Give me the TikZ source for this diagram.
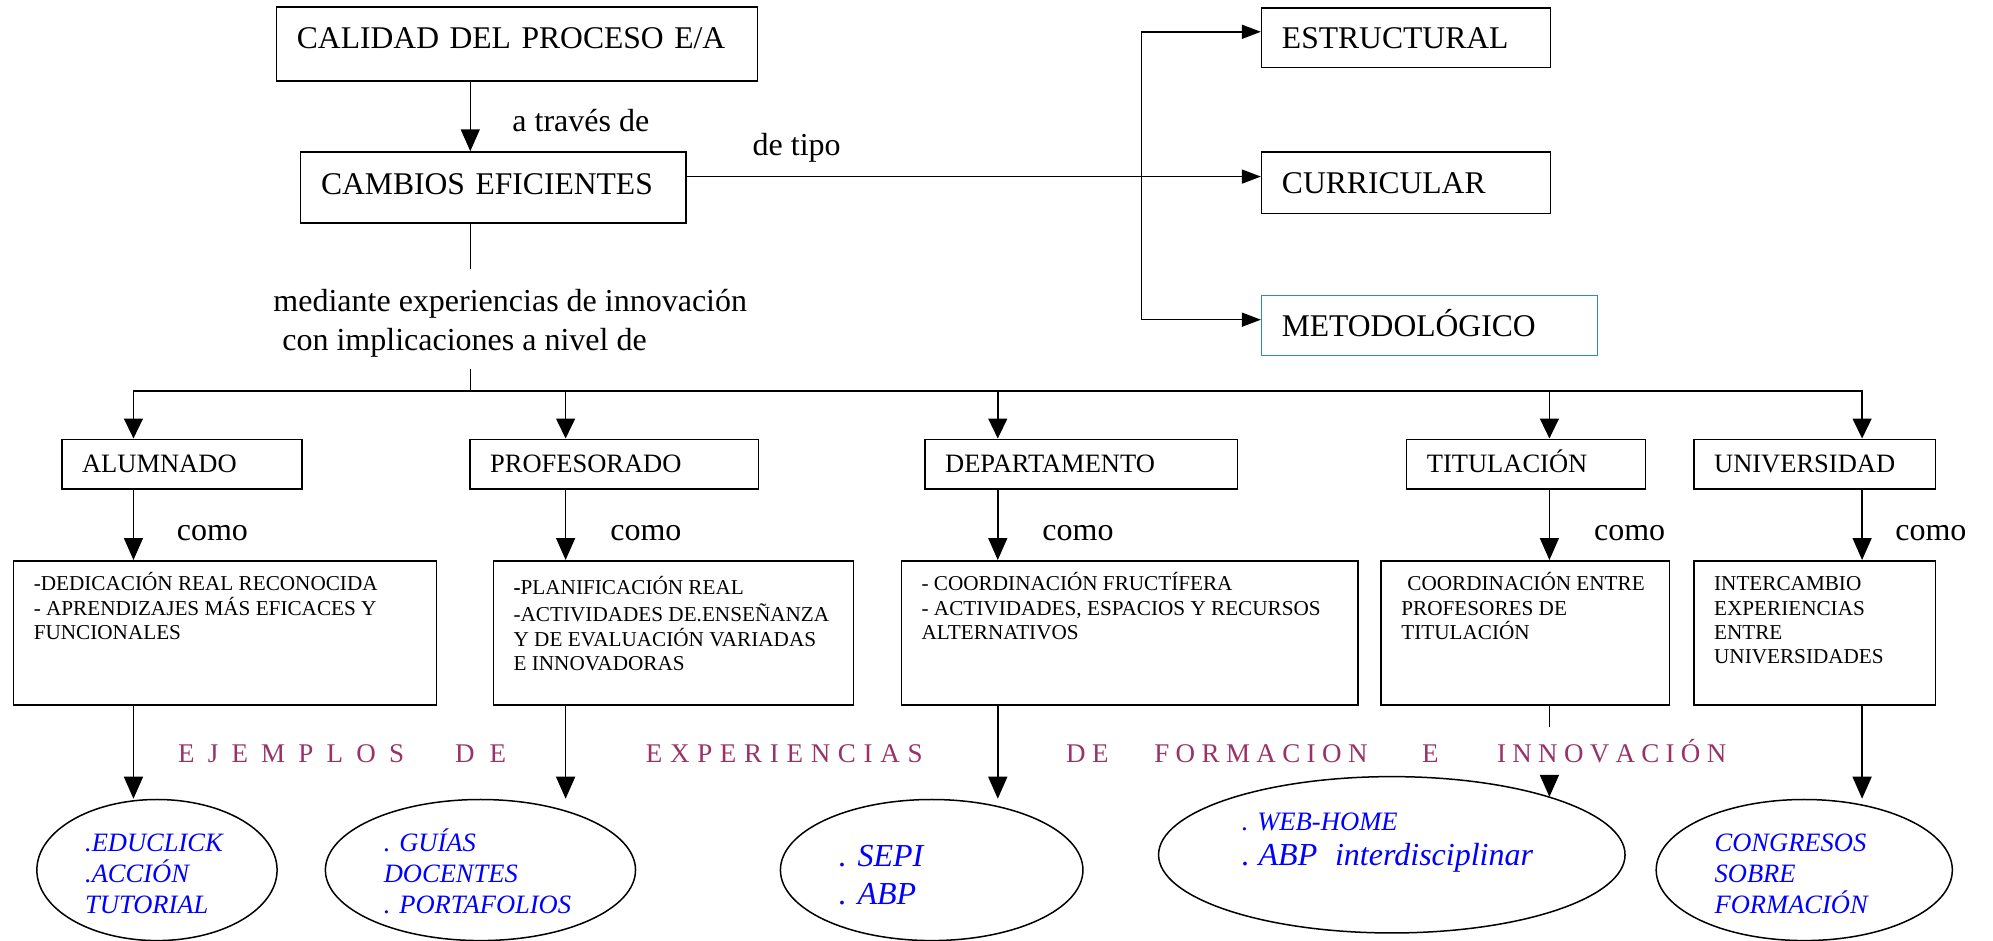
\documentclass[tikz,border=0pt]{standalone}
\usepackage{fontspec}
\setmainfont{Liberation Serif}
\usetikzlibrary{arrows.meta,shapes.geometric}
\frenchspacing
\newlength{\ux}\setlength{\ux}{1.2711pt}
\newlength{\lsgap}
\makeatletter
\def\ls@aux#1{\ifx\relax#1\else#1\kern\lsgap\expandafter\ls@aux\fi}
\newcommand{\spreadword}[2]{\setlength{\lsgap}{#1}\ls@aux#2\relax\unkern}
\makeatother
\definecolor{mauve}{RGB}{153,51,102}
\definecolor{tealb}{RGB}{40,150,150}
\definecolor{linkblue}{RGB}{0,0,255}
\begin{document}
\begin{tikzpicture}[x=1.2711pt, y=-1.2711pt,
  line/.style={line width=1.5pt},
  arrB/.style={line width=1.5pt, -{Triangle[width=19pt,length=22pt]}},
  arrL/.style={line width=1.5pt, -{Triangle[width=19pt,length=20pt]}},
  arrS/.style={line width=1.5pt, -{Triangle[width=14pt,length=19pt]}},
  topbox/.style={draw, line width=1.5pt, anchor=north west, inner xsep=16\ux, inner ysep=0pt, align=left, font=\fontsize{31.6}{38}\selectfont, text height=21pt, text depth=0pt},
  lvbox/.style={draw, line width=1.5pt, anchor=north west, inner xsep=16\ux, inner ysep=0pt, align=left, font=\fontsize{26.5}{31}\selectfont, text height=17.5pt, text depth=0pt, minimum height=39\ux},
  cbox/.style={draw, line width=1.5pt, anchor=north west, inner xsep=16\ux, inner ysep=0pt, font=\fontsize{21.2}{24.3}\selectfont},
  ell/.style={draw, ellipse, line width=1.5pt, inner sep=0pt, align=left, text=linkblue, font=\fontsize{26.5}{30.8}\selectfont\itshape},
  lab/.style={anchor=base west, inner sep=0pt, font=\fontsize{32}{38}\selectfont},
  ej/.style={anchor=base west, inner sep=0pt, text=mauve, font=\fontsize{27}{32}\selectfont},
]
\fill[white] (0,0) rectangle (1568,740);
\useasboundingbox (0,0) rectangle (1568,740);

% top boxes
\node[topbox, minimum width=378.5\ux, minimum height=58\ux, text width=346.5\ux, text depth=11.4pt] (cal) at (217,5) {CALIDAD DEL PROCESO E/A};
\node[topbox, minimum width=303\ux, minimum height=56\ux, text width=271\ux, text depth=7.6pt] (cam) at (236,119) {CAMBIOS EFICIENTES};
\node[topbox, minimum width=227.4\ux, minimum height=46.7\ux, text width=195.4\ux] (est) at (992,5.8) {ESTRUCTURAL};
\node[topbox, minimum width=227.4\ux, minimum height=48.5\ux, text width=195.4\ux] (cur) at (992,118.8) {CURRICULAR};
\node[topbox, draw=tealb, line width=1.1pt, minimum width=264.6\ux, minimum height=47\ux, text width=232.6\ux] (met) at (992,232.3) {METODOLÓGICO};

% level boxes
\node[lvbox, minimum width=189\ux, text width=157\ux] (lv1) at (48,345) {ALUMNADO};
\node[lvbox, minimum width=227\ux, text width=195\ux] (lv2) at (369,345) {PROFESORADO};
\node[lvbox, minimum width=246\ux, text width=214\ux] (lv3) at (727,345) {DEPARTAMENTO};
\node[lvbox, minimum width=188\ux, text width=156\ux] (lv4) at (1106,345) {TITULACIÓN};
\node[lvbox, minimum width=190\ux, text width=158\ux] (lv5) at (1332,345) {UNIVERSIDAD};

% content boxes
\node[cbox] (b1) at (10,440.6) {\parbox[c][113.4\ux][t]{301\ux}{\rule{0pt}{30.1pt}-DEDICACIÓN REAL RECONOCIDA\\- APRENDIZAJES MÁS EFICACES Y\\FUNCIONALES}};
\node[cbox] (b2) at (387.5,440.6) {\parbox[c][113.4\ux][t]{251.5\ux}{\rule{0pt}{33.5pt}\textbf{-}PLANIFICACIÓN REAL\\[3.4pt]-ACTIVIDADES DE.ENSEÑANZA\\Y DE EVALUACIÓN VARIADAS\\E INNOVADORAS}};
\node[cbox] (b3) at (708.5,440.6) {\parbox[c][113.4\ux][t]{327.5\ux}{\rule{0pt}{30.1pt}- COORDINACIÓN FRUCTÍFERA\\- ACTIVIDADES, ESPACIOS Y RECURSOS\\ALTERNATIVOS}};
\node[cbox] (b4) at (1086,440.6) {\parbox[c][113.4\ux][t]{195\ux}{\rule{0pt}{30.1pt}\hspace*{6pt}COORDINACIÓN ENTRE\\PROFESORES DE\\TITULACIÓN}};
\node[cbox] (b5) at (1332,440.6) {\parbox[c][113.4\ux][t]{158\ux}{\rule{0pt}{30.1pt}INTERCAMBIO\\EXPERIENCIAS\\ENTRE\\UNIVERSIDADES}};

% ellipses
\node[ell, minimum width=189\ux, minimum height=111\ux, text width=113\ux] (e1) at (123.5,684.5) {\rule{0pt}{25pt}.EDUCLICK\\.ACCIÓN\\TUTORIAL};
\node[ell, minimum width=244\ux, minimum height=111\ux, text width=152\ux] (e2) at (378,684.5) {\rule{0pt}{25pt}. GUÍAS\\DOCENTES\\. PORTAFOLIOS};
\node[ell, minimum width=238\ux, minimum height=111\ux, text width=146\ux, font=\fontsize{32}{38.1}\selectfont\itshape] (e3) at (733,684.5) {\rule{0pt}{31.2pt}. SEPI\\. ABP};
\node[ell, minimum width=367\ux, minimum height=123\ux, text width=236\ux, font=\fontsize{26.6}{35}\selectfont\itshape] (e4) at (1095,672.5) {. WEB-HOME\\{\fontsize{32}{35}\selectfont . ABP\ \ interdisciplinar}\rule[-30.8pt]{0pt}{0pt}};
\node[ell, minimum width=233\ux, minimum height=111\ux, text width=141\ux] (e5) at (1419.5,684.5) {\rule{0pt}{25pt}CONGRESOS\\SOBRE\\FORMACIÓN};

% labels
\node[lab] (tra) at (403,103.6) {a través de};
\node[lab] (tipo) at (592,122.7) {de tipo};
\node[lab] (med1) at (215,245.2) {mediante experiencias de innovación};
\node[lab] (med2) at (222,275.4) {con implicaciones a nivel de};
\node[lab] (como1) at (139,425.4) {como};
\node[lab] (como2) at (480,425.4) {como};
\node[lab] (como3) at (820,425.4) {como};
\node[lab] (como4) at (1254,425.4) {como};
\node[lab] (como5) at (1491,425.4) {como};

% ejemplos row
\node[ej] (ej1) at (140,600) {\spreadword{13.2pt}{EJEMPLOS}};
\node[ej] (ej2) at (358,600) {\spreadword{15pt}{DE}};
\node[ej] (ej3) at (508,600) {\spreadword{7.7pt}{EXPERIENCIAS}};
\node[ej] (ej4) at (838.7,600) {\spreadword{6.5pt}{DE}};
\node[ej] (ej5) at (908,600) {\spreadword{6.4pt}{FORMACION}};
\node[ej] (ej6) at (1118.6,600) {E};
\node[ej] (ej7) at (1177.7,600) {\spreadword{6.3pt}{INNOVACIÓN}};

% coordinates
\coordinate (xa) at (370,0);
\coordinate (hl) at (0,307.5);
\coordinate (ax1) at (105,0);
\coordinate (ax2) at (445,0);
\coordinate (ax3) at (785,0);
\coordinate (ax4) at (1219,0);
\coordinate (ax5) at (1465,0);
\coordinate (m1) at (370,212);
\coordinate (m2) at (370,290);
\coordinate (bx) at (898,0);
\coordinate (estin) at ([yshift=6pt]est.west);
\coordinate (curin) at ([yshift=6pt]cur.west);
\coordinate (metin) at ([yshift=6pt]met.west);
\coordinate (g1) at (1219,572);
\coordinate (g2) at (1219,611);

% connectors
\draw[arrB] (cal.south -| xa) -- (cam.north -| xa);
\draw[arrS] (cam.east |- curin) -- (curin);
\draw[line, {Triangle[width=14pt,length=19pt]}-{Triangle[width=14pt,length=19pt]}] (estin) -- (bx |- estin) -- (bx |- metin) -- (metin);
\draw[line] (cam.south -| xa) -- (m1);
\draw[line] (m2) -- (xa |- hl);
\draw[line, line cap=rect] (ax1 |- hl) -- (ax5 |- hl);
\foreach \i in {1,...,5} {
  \draw[arrL] (ax\i |- hl) -- (ax\i |- lv\i.north);
  \draw[arrB] (lv\i.south -| ax\i) -- (ax\i |- b\i.north);
}
\draw[arrB] (b1.south -| ax1) -- (ax1 |- e1.north);
\draw[arrB] (b2.south -| ax2) -- (ax2 |- e2.north);
\draw[arrB] (b3.south -| ax3) -- (ax3 |- e3.north);
\draw[arrB] (b5.south -| ax5) -- (ax5 |- e5.north);
\draw[line] (b4.south -| ax4) -- (g1);
\draw[arrB] (g2) -- (g2 |- e4.20.2);
\end{tikzpicture}
\end{document}
